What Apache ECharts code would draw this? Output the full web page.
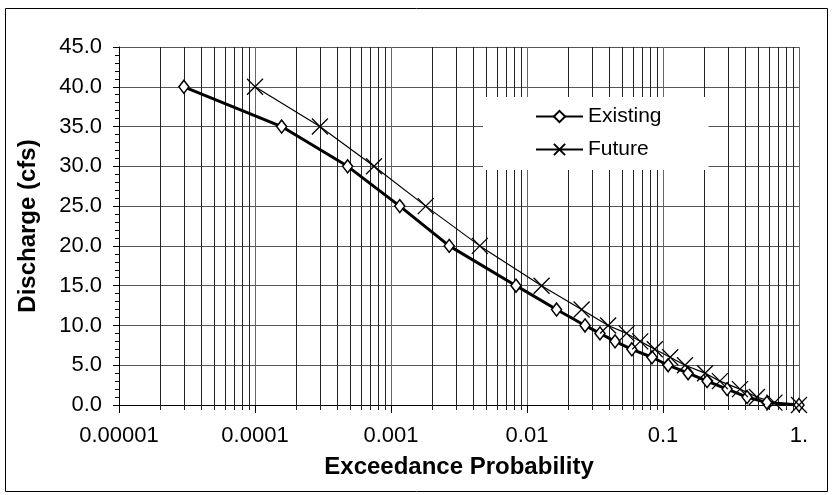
<!DOCTYPE html>
<html>
<head>
<meta charset="utf-8">
<title>Exceedance Probability</title>
<script src="https://cdn.jsdelivr.net/npm/echarts@6/dist/echarts.min.js"></script>
<style>
  html, body { margin: 0; padding: 0; background: #fff; }
  #chart { width: 833px; height: 495px; }
</style>
</head>
<body>
<div id="chart"></div>
<script>
// 数据
var existingProb = [3.0e-5, 1.57e-4, 4.8e-4, 1.16e-3, 2.68e-3, 8.3e-3, 1.65e-2, 2.67e-2, 3.44e-2, 4.44e-2, 5.9e-2, 8.3e-2, 0.109, 0.153, 0.211, 0.296, 0.415, 0.58, 1.0];
var existingQ = [40, 35, 30, 25, 20, 15, 12, 10, 9, 8, 7, 6, 5, 4, 3, 2, 1, 0.3, 0];
var futureProb = [1.0e-4, 3.0e-4, 7.5e-4, 1.8e-3, 4.5e-3, 1.28e-2, 2.52e-2, 3.95e-2, 5.4e-2, 6.8e-2, 8.7e-2, 0.113, 0.145, 0.204, 0.262, 0.368, 0.49, 0.66, 1.0];
var futureQ = [40, 35, 30, 25, 20, 15, 12, 10, 9, 8, 7, 6, 5, 4, 3, 2, 1, 0.3, 0];

// tick labels
var xLabels = ['0.00001', '0.0001', '0.001', '0.01', '0.1', '1.'];
var decades = [1e-5, 1e-4, 1e-3, 1e-2, 1e-1];
var minorMult = [2, 3, 4, 5, 6, 7, 8, 9];

var minorTicks = [];
decades.forEach(function(d) {
  minorMult.forEach(function(m) {
    minorTicks.push([d * m]);
  });
});

function pairs(xs, ys) {
  return xs.map(function(x, i) { return [x, ys[i]]; });
}

var FONT = 'Liberation Sans, Arial, sans-serif';
var crossPath = 'path://M0,0L10,10M10,0L0,10';

var myChart = echarts.init(document.getElementById('chart'));

var option = {
  animation: false,
  backgroundColor: '#fff',
  graphic: [{
    type: 'rect',
    shape: { x: 5.5, y: 8.5, width: 822, height: 483 },
    style: { fill: 'none', stroke: '#000', lineWidth: 1 },
    silent: true
  }],
  grid: { left: 119, right: 34, top: 47, bottom: 90 },
  legend: {
    orient: 'vertical',
    left: 483,
    top: 97,
    padding: [9, 47, 10, 52],
    itemGap: 12,
    itemWidth: 47,
    itemHeight: 14,
    backgroundColor: '#fff',
    textStyle: { fontFamily: FONT, fontSize: 21, color: '#000' },
    data: ['Existing', 'Future']
  },
  xAxis: {
    type: 'log',
    logBase: 10,
    min: 1e-5,
    max: 1,
    name: 'Exceedance Probability',
    nameLocation: 'middle',
    nameGap: 50,
    nameTextStyle: { fontFamily: FONT, fontSize: 24, fontWeight: 'bold', color: '#000' },
    axisLine: { show: true, onZero: false, lineStyle: { color: '#000', width: 1 } },
    axisTick: { show: true, length: 8, lineStyle: { color: '#000' } },
    axisLabel: {
      margin: 20,
      fontFamily: FONT,
      fontSize: 22,
      color: '#000',
      formatter: function(v) {
        var i = Math.round(Math.log(v) / Math.LN10) + 5;
        return xLabels[i] || '';
      }
    },
    splitLine: { show: true, lineStyle: { color: '#666', width: 1 } }
  },
  yAxis: {
    type: 'value',
    min: 0,
    max: 45,
    interval: 5,
    name: 'Discharge (cfs)',
    nameLocation: 'middle',
    nameGap: 79,
    nameTextStyle: { fontFamily: FONT, fontSize: 24, fontWeight: 'bold', color: '#000' },
    axisLine: { show: true, lineStyle: { color: '#000', width: 1 } },
    axisTick: { show: true, length: 6, lineStyle: { color: '#000' } },
    minorTick: { show: true, splitNumber: 5, length: 4, lineStyle: { color: '#000' } },
    axisLabel: {
      margin: 17,
      fontFamily: FONT,
      fontSize: 22,
      color: '#000',
      formatter: function(v) { return v.toFixed(1); }
    },
    splitLine: { show: true, lineStyle: { color: '#555', width: 1 } }
  },
  series: [{
    // minor log gridlines and ticks
    type: 'custom',
    silent: true,
    clip: false,
    z: 1,
    data: minorTicks,
    renderItem: function(params, api) {
      var top = api.coord([api.value(0), 45]);
      var bot = api.coord([api.value(0), 0]);
      var x = Math.round(top[0]) + 0.5;
      return {
        type: 'line',
        shape: { x1: x, y1: top[1], x2: x, y2: bot[1] + 5 },
        style: { stroke: '#222', lineWidth: 1 }
      };
    }
  }, {
    name: 'Existing',
    type: 'line',
    z: 3,
    data: pairs(existingProb, existingQ),
    symbol: 'diamond',
    symbolSize: [10, 13],
    showAllSymbol: true,
    lineStyle: { color: '#000', width: 3 },
    itemStyle: { color: '#fff', borderColor: '#000', borderWidth: 1.5 }
  }, {
    name: 'Future',
    type: 'line',
    z: 3,
    data: pairs(futureProb, futureQ),
    symbol: crossPath,
    symbolSize: 16,
    showAllSymbol: true,
    lineStyle: { color: '#000', width: 1.2 },
    itemStyle: { color: 'none', borderColor: '#000', borderWidth: 1.3 }
  }]
};

myChart.setOption(option);
</script>
</body>
</html>
